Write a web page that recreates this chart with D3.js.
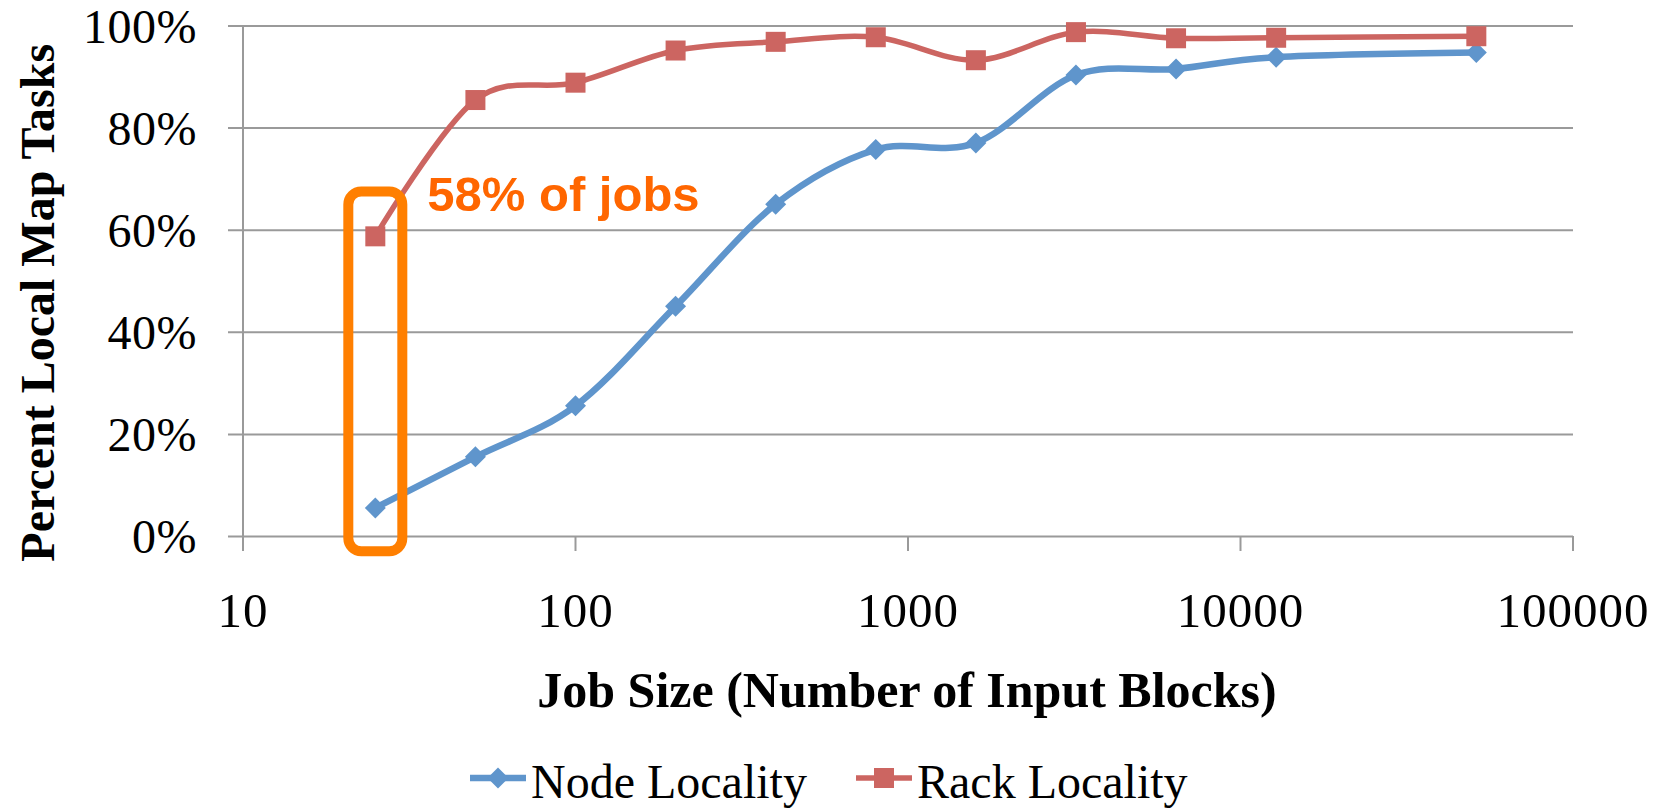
<!DOCTYPE html>
<html>
<head>
<meta charset="utf-8">
<script src="https://cdn.jsdelivr.net/npm/d3@7"></script>
<style>
  body { margin: 0; background: #fff; }
  .grid line { stroke: #9a9a9a; stroke-width: 2; }
  .grid path { display: none; }
</style>
</head>
<body>
<div id="chart"></div>
<script>

var jobSizes = [25, 50, 100, 200, 400, 800, 1600, 3200, 6400, 12800, 51200];
var nodeLocality = [5.5, 15.5, 25.5, 45.0, 65.0, 75.7, 77.0, 90.3, 91.5, 93.8, 94.7];
var rackLocality = [58.7, 85.4, 88.8, 95.1, 96.8, 97.7, 93.2, 98.7, 97.5, 97.6, 97.9];
var xTicks = [10, 100, 1000, 10000, 100000];
var yTicks = [0, 20, 40, 60, 80, 100];
var seriesNames = ["Node Locality", "Rack Locality"];
var highlightSize = 25;
var highlightLabel = "58% of jobs";

var width = 1664;
var height = 810;
var margin = {top: 25.5, right: 91, bottom: 274, left: 243};

var svg = d3.select("#chart")
    .append("svg")
      .attr("width", width)
      .attr("height", height);

var w = width - margin.left - margin.right;
var h = height - margin.top - margin.bottom;

var chart = svg.append("g").attr("transform", "translate(" + margin.left + "," + margin.top + ")");

var x = d3.scaleLog()
    .domain([10, 100000])
    .range([0, w]);

var y = d3.scaleLinear()
    .domain([0, 100])
    .range([h, 0]);

var blue = "#5f95cc";
var red = "#cc6561";

// horizontal gridlines, with a small tick to the left of the axis
chart.append("g")
    .attr("class", "grid")
    .attr("transform", "translate(-15,0)")
    .call(d3.axisLeft(y)
      .tickValues(yTicks)
      .tickSize(-(w + 15))
      .tickFormat(""));

// vertical axis line
chart.append("line")
    .attr("x1", 0).attr("x2", 0)
    .attr("y1", 0).attr("y2", h + 15)
    .attr("stroke", "#9a9a9a")
    .attr("stroke-width", 2);

// x tick marks
chart.selectAll(".xtick")
    .data(xTicks)
  .enter().append("line")
    .attr("x1", function(d) { return x(d); })
    .attr("x2", function(d) { return x(d); })
    .attr("y1", h)
    .attr("y2", h + 15)
    .attr("stroke", "#9a9a9a")
    .attr("stroke-width", 2);

// x tick labels
chart.selectAll(".xlabel")
    .data(xTicks)
  .enter().append("text")
    .attr("x", function(d) { return x(d); })
    .attr("y", h + 91)
    .attr("text-anchor", "middle")
    .style("font-family", "'Liberation Serif', serif")
    .style("font-size", "49px")
    .style("letter-spacing", "1px")
    .text(function(d) { return d; });

// y tick labels
chart.selectAll(".ylabel")
    .data(yTicks)
  .enter().append("text")
    .attr("x", -46)
    .attr("y", function(d) { return y(d) + 17; })
    .attr("text-anchor", "end")
    .style("font-family", "'Liberation Serif', serif")
    .style("font-size", "48px")
    .style("letter-spacing", "0.5px")
    .text(function(d) { return d + "%"; });

// axis titles
chart.append("text")
    .attr("transform", "translate(" + (-189) + "," + (h / 2 + 22) + ") rotate(-90)")
    .attr("text-anchor", "middle")
    .style("font-family", "'Liberation Serif', serif")
    .style("font-weight", "bold")
    .style("font-size", "48px")
    .text("Percent Local Map Tasks");

chart.append("text")
    .attr("x", 664)
    .attr("y", h + 171)
    .attr("text-anchor", "middle")
    .style("font-family", "'Liberation Serif', serif")
    .style("font-weight", "bold")
    .style("font-size", "50px")
    .text("Job Size (Number of Input Blocks)");

var nodeData = jobSizes.map(function(d, i) { return {size: d, value: nodeLocality[i]}; });
var rackData = jobSizes.map(function(d, i) { return {size: d, value: rackLocality[i]}; });

var line = d3.line()
    .curve(d3.curveCatmullRom.alpha(0))
    .x(function(d) { return x(d.size); })
    .y(function(d) { return y(d.value); });

var diamond = "M0,-10.5L10.5,0L0,10.5L-10.5,0Z";

// Node locality
chart.append("path")
    .datum(nodeData)
    .attr("fill", "none")
    .attr("stroke", blue)
    .attr("stroke-width", 6.5)
    .attr("d", line);

chart.selectAll(".node")
    .data(nodeData)
  .enter().append("path")
    .attr("d", diamond)
    .attr("transform", function(d) { return "translate(" + x(d.size) + "," + y(d.value) + ")"; })
    .attr("fill", blue);

// Rack locality
chart.append("path")
    .datum(rackData)
    .attr("fill", "none")
    .attr("stroke", red)
    .attr("stroke-width", 5.5)
    .attr("d", line);

chart.selectAll(".rack")
    .data(rackData)
  .enter().append("rect")
    .attr("x", function(d) { return x(d.size) - 10; })
    .attr("y", function(d) { return y(d.value) - 10; })
    .attr("width", 20)
    .attr("height", 20)
    .attr("fill", red);

// highlight box round the smallest job size
var hx = x(highlightSize);
chart.append("rect")
    .attr("x", hx - 27)
    .attr("y", y(67.5))
    .attr("width", 54)
    .attr("height", y(-3) - y(67.5))
    .attr("rx", 13)
    .attr("ry", 13)
    .attr("fill", "none")
    .attr("stroke", "#ff7f00")
    .attr("stroke-width", 10);

chart.append("text")
    .attr("x", hx + 52)
    .attr("y", y(63.6))
    .style("font-family", "'Liberation Sans', Arial, sans-serif")
    .style("font-weight", "bold")
    .style("font-size", "49px")
    .style("fill", "#ff6600")
    .text(highlightLabel);

// legend
var legend = svg.append("g");
var legendItems = [
  {name: seriesNames[0], color: blue, x: 470},
  {name: seriesNames[1], color: red, x: 856}
];

legendItems.forEach(function(item, i) {
  var g = legend.append("g").attr("transform", "translate(" + item.x + ",778)");
  g.append("line")
      .attr("x1", 0).attr("x2", 56)
      .attr("y1", 0).attr("y2", 0)
      .attr("stroke", item.color)
      .attr("stroke-width", i === 0 ? 6.5 : 5.5);
  if (i === 0) {
    g.append("path").attr("d", diamond).attr("transform", "translate(28,0)").attr("fill", item.color);
  } else {
    g.append("rect").attr("x", 18).attr("y", -10).attr("width", 20).attr("height", 20).attr("fill", item.color);
  }
  g.append("text")
      .attr("x", 61)
      .attr("y", 20)
      .style("font-family", "'Liberation Serif', serif")
      .style("font-size", "48px")
      .text(item.name);
});

</script>
</body>
</html>
